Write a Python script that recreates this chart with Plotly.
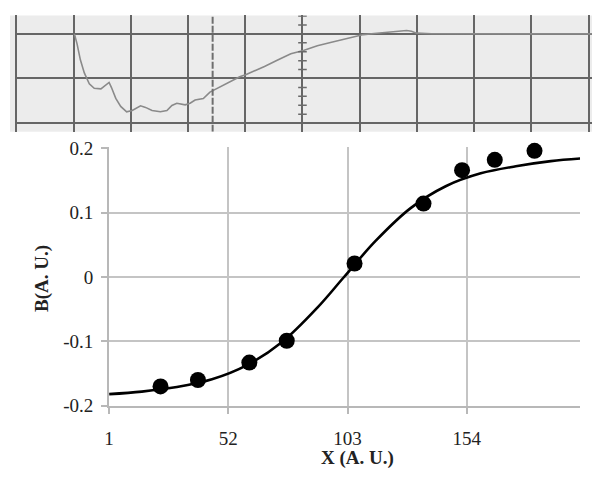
import plotly.graph_objects as go

# ---------------- main chart data ----------------
X_pts = [23, 39, 61, 77, 106, 135.5, 152, 166, 183]
B_pts = [-0.170, -0.160, -0.133, -0.099, 0.021, 0.114, 0.166, 0.182, 0.196]

fit_x = [1, 15, 30, 45, 60, 75, 90, 101.5, 115, 130, 145, 160, 175, 190, 202.5]
fit_y = [-0.182, -0.178, -0.171, -0.159, -0.137, -0.101, -0.048, 0.0, 0.056,
         0.107, 0.141, 0.161, 0.172, 0.180, 0.184]

x_ticks = [1, 52, 103, 154]
x_tick_text = ["1", "52", "103", "154"]
y_ticks = [-0.2, -0.1, 0, 0.1, 0.2]
y_tick_text = ["-0.2", "-0.1", "0", "0.1", "0.2"]

# ---------------- recorder trace (top strip, in grid divisions) ----------------
trace_x = [1.014, 1.061, 1.118, 1.187, 1.274, 1.360, 1.477, 1.563, 1.620, 1.660,
           1.737, 1.823, 1.927, 2.024, 2.170, 2.257, 2.371, 2.516, 2.631, 2.718,
           2.804, 2.950, 3.036, 3.123, 3.210, 3.267, 3.383, 3.470, 3.614, 3.757,
           3.903, 4.017, 4.191, 4.336, 4.567, 4.797, 5.017, 5.260, 5.490, 5.723,
           5.953, 6.069, 6.300, 6.530, 6.733, 6.820, 6.906, 6.993, 7.253, 10.06]
trace_y = [0.0, -0.230, -0.581, -0.875, -1.118, -1.219, -1.232, -1.146, -1.090, -1.198,
           -1.447, -1.628, -1.748, -1.720, -1.613, -1.649, -1.720, -1.748, -1.720, -1.606,
           -1.555, -1.591, -1.555, -1.484, -1.469, -1.452, -1.305, -1.247, -1.161, -1.054,
           -0.961, -0.910, -0.817, -0.731, -0.587, -0.445, -0.372, -0.265, -0.194, -0.123,
           -0.049, -0.015, 0.015, 0.037, 0.054, 0.075, 0.060, 0.017, 0.004, 0.0]

W, H = 592, 480
SERIF = "Liberation Serif, Times New Roman, serif"
GRID = "#c4c4c4"

fig = go.Figure()

# top strip
fig.add_trace(go.Scatter(x=trace_x, y=trace_y, mode="lines", xaxis="x2", yaxis="y2",
                         line=dict(color="#8a8a8a", width=1.6), hoverinfo="skip",
                         showlegend=False))

# main chart
fig.add_trace(go.Scatter(x=fit_x, y=fit_y, mode="lines",
                         line=dict(color="black", width=2.6, shape="spline", smoothing=1),
                         showlegend=False))
fig.add_trace(go.Scatter(x=X_pts, y=B_pts, mode="markers", cliponaxis=False,
                         marker=dict(color="black", size=16), showlegend=False))

# geometry helpers (pixel -> paper)
def px(x):
    return x / W

def py(y):
    return 1 - y / H

# main axes
x_lo, x_hi = 1, 202.5
y_lo, y_hi = -0.2, 0.2015
ppu_y = (414 - 145.3) / 0.4
top_px = 145.3 - (y_hi - 0.2) * ppu_y

# top strip axes (divisions)
div_px_x = 57.7
div_px_y = 46.5
x2_lo = -0.02
x2_hi = (592 - 11.5) / div_px_x
y2_lo = (26 - 128) / div_px_y
y2_hi = (26 - 6.7) / div_px_y

shapes = []
# gray photo background
shapes.append(dict(type="rect", xref="paper", yref="paper", x0=px(5), x1=1,
                   y0=py(128), y1=py(6.7), fillcolor="#ececec", line=dict(width=0),
                   layer="below"))
# dashed marker line
shapes.append(dict(type="line", xref="x2", yref="y2", x0=3.43, x1=3.43,
                   y0=y2_lo, y1=y2_hi, line=dict(color="#6e6e6e", width=2, dash="7px,2px")))
# minor ticks on central axis
k = -10
while k <= 2:
    yv = k * 0.2
    if y2_lo < yv < y2_hi and abs(yv - round(yv)) > 1e-6:
        shapes.append(dict(type="line", xref="x2", yref="y2", x0=5 - 0.075, x1=5 + 0.075,
                           y0=yv, y1=yv, line=dict(color="#6a6a6a", width=1.5)))
    k += 1

fig.update_layout(
    width=W, height=H,
    margin=dict(l=0, r=0, t=0, b=0),
    paper_bgcolor="white", plot_bgcolor="rgba(0,0,0,0)",
    font=dict(family=SERIF, color="#222222", size=19),
    shapes=shapes,
    xaxis=dict(domain=[px(105), px(580)], range=[x_lo, x_hi], tickmode="array",
               tickvals=x_ticks, ticktext=x_tick_text, showgrid=True, gridcolor=GRID,
               gridwidth=2, showline=True, linecolor="#b8b8b8", linewidth=2,
               ticks="outside", ticklen=6, tickwidth=2, tickcolor="#b8b8b8",
               zeroline=False, tickfont=dict(family=SERIF, size=19, color="#222222"),
               ticklabelstandoff=8, anchor="y"),
    yaxis=dict(domain=[py(414), py(top_px)], range=[y_lo, y_hi], tickmode="array",
               tickvals=y_ticks, ticktext=y_tick_text, showgrid=True, gridcolor=GRID,
               gridwidth=2, showline=True, linecolor="#b8b8b8", linewidth=2,
               ticks="outside", ticklen=6, tickwidth=2, tickcolor="#b8b8b8",
               zeroline=False, tickfont=dict(family=SERIF, size=19, color="#222222"),
               ticklabelstandoff=4, anchor="x"),
    xaxis2=dict(domain=[px(11.5 + x2_lo * div_px_x), 1], range=[x2_lo, x2_hi],
                tick0=0, dtick=1, showgrid=True, gridcolor="#666666", gridwidth=2,
                showticklabels=False, ticks="", zeroline=False, showline=False,
                anchor="y2"),
    yaxis2=dict(domain=[py(128), py(6.7)], range=[y2_lo, y2_hi], tick0=0, dtick=1,
                showgrid=True, gridcolor="#666666", gridwidth=2, showticklabels=False,
                ticks="", zeroline=False, showline=False, anchor="x2"),
    annotations=[
        dict(text="<b>X (A. U.)</b>", xref="paper", yref="paper", x=px(356), y=py(468),
             xanchor="center", yanchor="middle", showarrow=False,
             font=dict(family=SERIF, size=19, color="#222222")),
        dict(text="<b>B(A. U.)</b>", xref="paper", yref="paper", x=px(38), y=py(281),
             xanchor="center", yanchor="middle", showarrow=False, textangle=-90,
             font=dict(family=SERIF, size=19, color="#222222")),
    ],
)

fig.write_html("out.html", config={"displayModeBar": False},
               post_script="document.body.style.margin='0';document.body.style.padding='0';")
